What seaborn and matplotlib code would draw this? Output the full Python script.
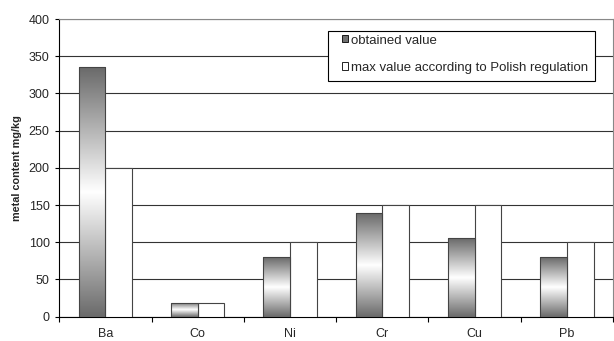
import numpy as np
import pandas as pd
import matplotlib
matplotlib.use("Agg")
import matplotlib.pyplot as plt
from matplotlib.colors import LinearSegmentedColormap
from matplotlib.patches import Patch, Rectangle
import seaborn as sns

metals = ['Ba', 'Co', 'Ni', 'Cr', 'Cu', 'Pb']
obtained = [335, 19, 80, 139, 106, 80]
max_allowed = [200, 19, 100, 150, 150, 100]
series = ['obtained value', 'max value according to Polish regulation']

df = pd.DataFrame({
    'metal': metals * 2,
    'value': obtained + max_allowed,
    'series': [series[0]] * len(metals) + [series[1]] * len(metals),
})

sns.set_style("white")
plt.rcParams['font.family'] = ['Liberation Sans', 'DejaVu Sans']

W, H = 614, 341
fig = plt.figure(figsize=(W / 100, H / 100), dpi=100)
ax = fig.add_axes([59.3 / W, 1 - 316.7 / H, (613 - 59.3) / W, (316.7 - 19) / H])

sns.barplot(data=df, x='metal', y='value', hue='series', order=metals,
            hue_order=series, palette=['#808080', 'white'], width=0.58,
            edgecolor='#444444', linewidth=0.8, legend=False, ax=ax, zorder=3)

# grey-white-grey gradient on the "obtained" bars
cmap = LinearSegmentedColormap.from_list('g', ['#6a6a6a', '#ffffff', '#6a6a6a'])
grad = np.linspace(0, 1, 256).reshape(-1, 1)
for bar in ax.containers[0]:
    x, y = bar.get_x(), bar.get_y()
    w, h = bar.get_width(), bar.get_height()
    im = ax.imshow(grad, extent=[x, x + w, y, y + h], aspect='auto',
                   cmap=cmap, zorder=3.5, interpolation='bilinear')
    im.set_clip_path(bar)
    bar.set_facecolor('none')
    bar.set_zorder(4)

ax.set_xlim(-0.5, len(metals) - 0.5)
ax.set_ylim(0, 400)
ax.set_yticks(range(0, 401, 50))
ax.yaxis.grid(True, color='#333333', linewidth=0.8, zorder=0)
ax.set_axisbelow(True)

ax.set_xticks(range(len(metals)))
ax.set_xticklabels(metals)
ax.set_xticks(np.arange(-0.5, len(metals)), minor=True)
ax.tick_params(axis='x', which='major', length=0, labelsize=9, pad=8)
ax.tick_params(axis='x', which='minor', length=3.5, width=0.8, color='black', direction='out')
ax.tick_params(axis='y', length=3, width=0.8, color='black', direction='out', labelsize=9, pad=4)
ax.tick_params(bottom=True, left=True, which='both')

ax.set_xlabel('')
ax.set_ylabel('metal content mg/kg', fontsize=7.8, fontweight='bold', labelpad=4.5)

for side in ['top', 'right']:
    ax.spines[side].set_color('#888888')
    ax.spines[side].set_linewidth(0.8)
for side in ['left', 'bottom']:
    ax.spines[side].set_color('black')
    ax.spines[side].set_linewidth(0.8)

# legend box
box = Rectangle((328 / W, 1 - 81 / H), 267 / W, 50 / H, transform=fig.transFigure,
                facecolor='white', edgecolor='black', linewidth=0.8,
                clip_on=False, zorder=9)
ax.add_patch(box)

handles = [Patch(facecolor='#707070', edgecolor='black', linewidth=0.6),
           Patch(facecolor='white', edgecolor='black', linewidth=0.6)]
leg = ax.legend(handles, series, loc='upper left',
                bbox_to_anchor=(342 / W, 1 - 34.5 / H), bbox_transform=fig.transFigure,
                fontsize=9.5, handlelength=0.45, handleheight=0.45, handletextpad=0.25,
                labelspacing=1.15, borderpad=0, borderaxespad=0, frameon=False)
leg.set_zorder(10)

fig.savefig('out.png', dpi=100)
